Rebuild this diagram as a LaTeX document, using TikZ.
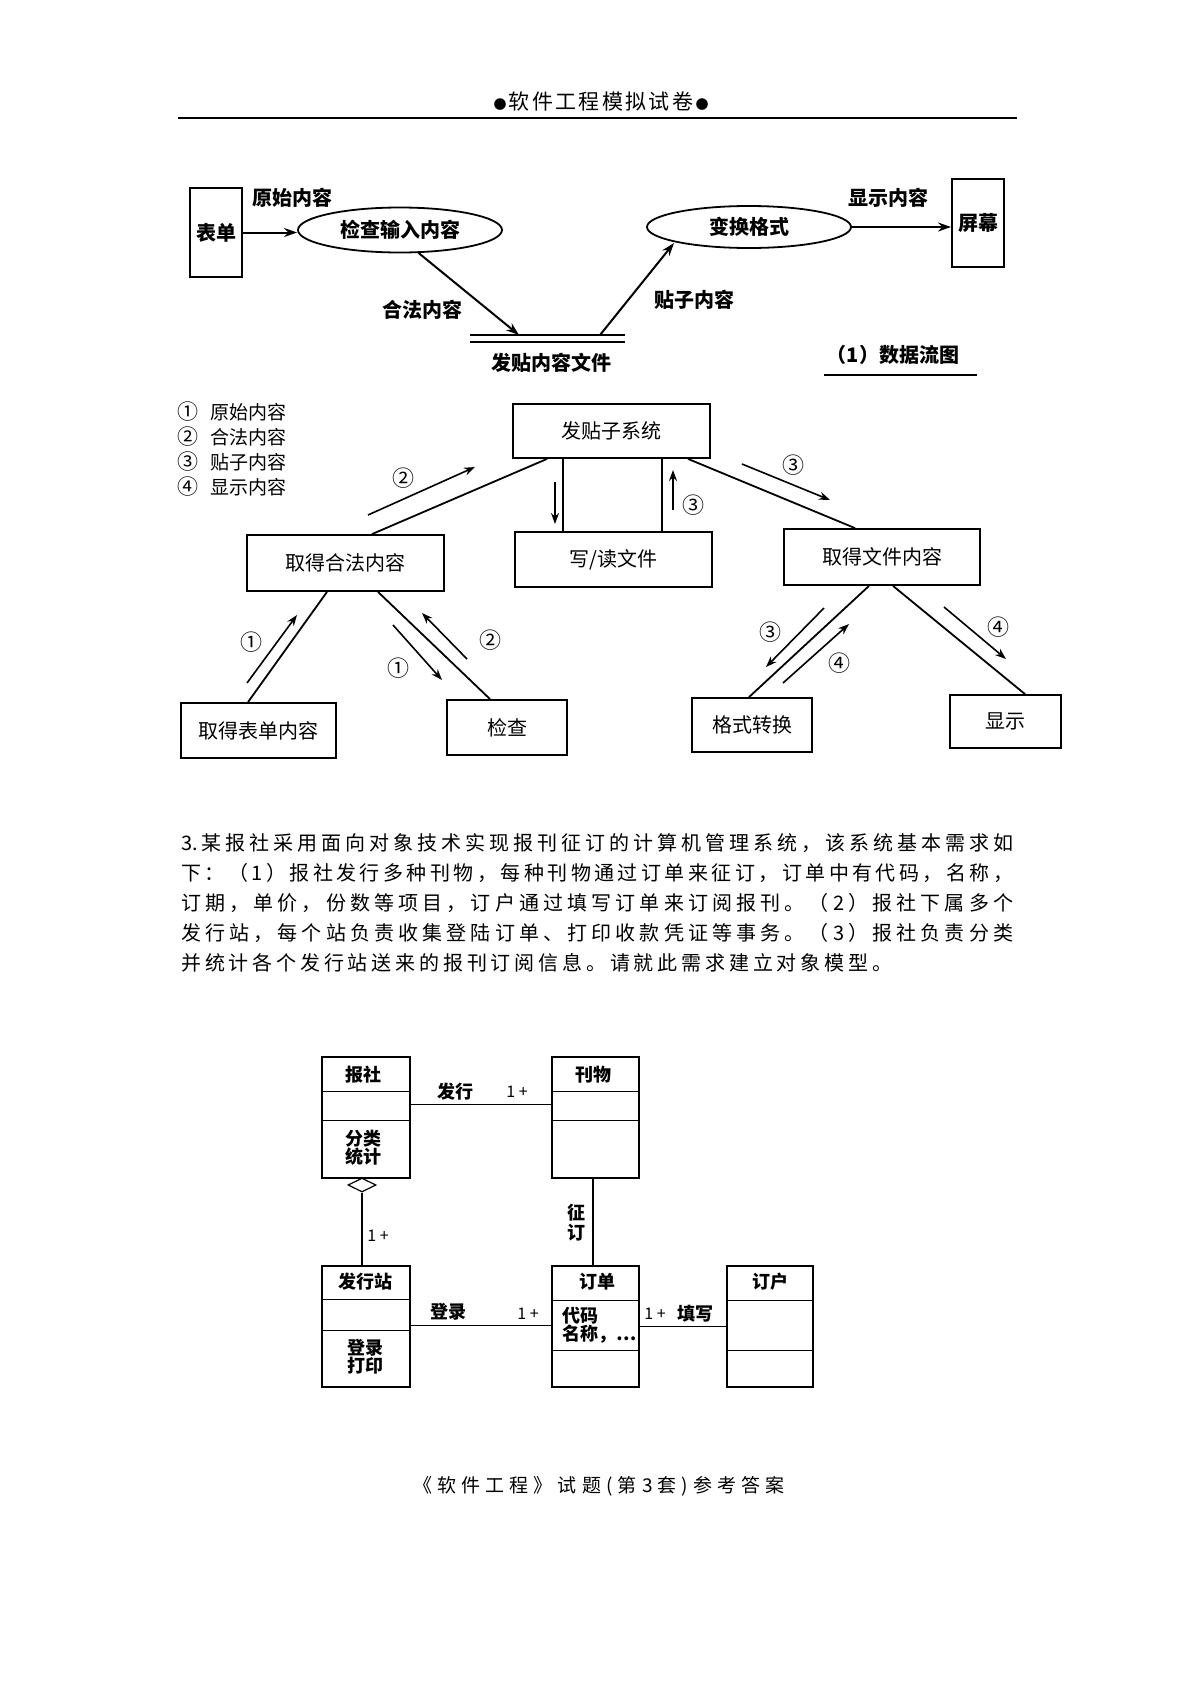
\documentclass[tikz,border=0pt]{standalone}
\usepackage{fontspec}
\setmainfont{Noto Sans CJK SC}
\usetikzlibrary{shapes.geometric,arrows.meta,calc}
\makeatletter
\newcommand\spreadto[2]{\hbox to #1{\let\spsep\relax\@tfor\spx:=#2\do{\spsep\spx\let\spsep\hfil}}}
\makeatother
\newcommand\fsz[1]{\fontsize{#1pt}{#1pt}\selectfont}
\begin{document}
\begin{tikzpicture}[x=1pt,y=-1pt,
  dfdbox/.style={draw,line width=2pt,inner sep=0pt,font=\fsz{20}\bfseries},
  dfdell/.style={draw,ellipse,line width=1.8pt,inner sep=0pt,font=\fsz{20}\bfseries},
  dfdarrow/.style={line width=2pt,-{Stealth[length=13pt,width=9pt]}},
  dfdlab/.style={font=\fsz{20}\bfseries,inner sep=0pt},
  scbox/.style={draw,line width=1.8pt,inner sep=0pt,font=\fsz{20}},
  scline/.style={line width=1.8pt},
  scarrow/.style={line width=1.6pt,-{Stealth[length=11pt,width=8pt]}},
  sclab/.style={font=\fsz{19},inner sep=0pt},
  numlab/.style={font=\fsz{22},inner sep=0pt},
  umlbox/.style={draw,line width=1.3pt,inner sep=0pt},
  umltxt/.style={font=\fsz{18}\bfseries,inner sep=0pt,align=center},
  umlline/.style={line width=1.3pt},
  multlab/.style={font=\fsz{16},inner sep=0pt},
  paraline/.style={font=\fsz{20},inner sep=0pt,anchor=west},
]
\fill[white] (0,0) rectangle (1191,1684);
\useasboundingbox (0,0) rectangle (1191,1684);

% header
\node[font=\fsz{21},inner sep=0pt] (hdr) at (601,101) {\spreadto{215pt}{{{\fsz{13}●}}软件工程模拟试卷{{\fsz{13}●}}}};
\coordinate (hl) at (178,118); \coordinate (hr) at (1017,118);
\draw[line width=1.5pt] (hl) -- (hr);

% ---------- part 1: data flow diagram
\node[dfdbox,minimum width=52pt,minimum height=89pt] (biaodan) at (216,232.5) {表单};
\node[dfdell,minimum width=204pt,minimum height=45pt] (e1) at (400,230) {检查输入内容};
\node[dfdell,minimum width=204pt,minimum height=42pt] (e2) at (749,227) {变换格式};
\node[dfdbox,minimum width=52pt,minimum height=88pt] (pingmu) at (978,223) {屏幕};
\draw[dfdarrow] (biaodan.east) -- (biaodan.east -| e1.west);
\draw[dfdarrow] (e2.east) -- (e2.east -| pingmu.west);
\node[inner sep=0pt,minimum width=155pt,minimum height=7pt] (store) at (547.5,338.5) {};
\draw[line width=2.2pt] (store.north west) -- (store.north east);
\draw[line width=1.6pt] (store.south west) -- (store.south east);
\coordinate (sin) at (519,335); \coordinate (sout) at (600,335); \coordinate (e2in) at (674,243);
\draw[dfdarrow] (e1.-51) -- (sin);
\draw[dfdarrow] (sout) -- (e2in);
\node[dfdlab] (l1) at (292,198) {原始内容};
\node[dfdlab] (l2) at (888,198) {显示内容};
\node[dfdlab] (l3) at (422,310) {合法内容};
\node[dfdlab] (l4) at (694,300) {贴子内容};
\node[dfdlab] (l5) at (551,363) {发贴内容文件};
\node[dfdlab] (cap1) at (893,355) {（1）数据流图};
\coordinate (ul1) at (824,375); \coordinate (ul2) at (977,375);
\draw[line width=1.8pt] (ul1) -- (ul2);

% ---------- part 2: structure chart
\node[sclab,anchor=west] (lg1) at (177,412) {{\fsz{21}①}\hspace{12pt}原始内容};
\node[sclab,anchor=west] (lg2) at (177,437) {{\fsz{21}②}\hspace{12pt}合法内容};
\node[sclab,anchor=west] (lg3) at (177,462) {{\fsz{21}③}\hspace{12pt}贴子内容};
\node[sclab,anchor=west] (lg4) at (177,487) {{\fsz{21}④}\hspace{12pt}显示内容};

\node[scbox,minimum width=197pt,minimum height=54pt] (fts) at (611.5,431) {发贴子系统};
\node[scbox,minimum width=197pt,minimum height=55pt] (xdw) at (613.5,559.5) {写/读文件};
\node[scbox,minimum width=197pt,minimum height=56pt] (qhf) at (345.5,563) {取得合法内容};
\node[scbox,minimum width=196pt,minimum height=56pt] (qwn) at (882,557) {取得文件内容};
\node[scbox,minimum width=155pt,minimum height=55pt] (qbd) at (258.5,730.5) {取得表单内容};
\node[scbox,minimum width=120pt,minimum height=55pt] (jc) at (507,727.5) {检查};
\node[scbox,minimum width=120pt,minimum height=54pt] (gsz) at (752,725) {格式转换};
\node[scbox,minimum width=111pt,minimum height=53pt] (xs) at (1005.5,721.5) {显示};

\draw[scline] ($(qhf.north)+(26.5,0)$) -- ($(fts.south)+(-64.5,0)$);
\draw[scline] ($(fts.south)+(-48.5,0)$) -- ($(xdw.north)+(-50.5,0)$);
\draw[scline] ($(fts.south)+(50.5,0)$) -- ($(xdw.north)+(48.5,0)$);
\draw[scline] ($(fts.south)+(76.5,0)$) -- ($(qwn.north)+(-27,0)$);
\draw[scline] ($(qhf.south)+(-18.5,0)$) -- ($(qbd.north)+(-10.5,0)$);
\draw[scline] ($(qhf.south)+(32.5,0)$) -- ($(jc.north)+(-17,0)$);
\draw[scline] ($(qwn.south)+(-13,0)$) -- ($(gsz.north)+(-3,0)$);
\draw[scline] ($(qwn.south)+(11,0)$) -- ($(xs.north)+(19.5,0)$);

\draw[scarrow] (368,515) -- (475,467);
\draw[scarrow] (555,482) -- (555,524);
\draw[scarrow] (673,510) -- (673,470);
\draw[scarrow] (742,464) -- (830,500);
\draw[scarrow] (247,683) -- (297,615);
\draw[scarrow] (393,625) -- (442,680);
\draw[scarrow] (467,659) -- (422,613);
\draw[scarrow] (824,608) -- (766,667);
\draw[scarrow] (783,683) -- (849,624);
\draw[scarrow] (944,607) -- (1006,659);
\node[numlab] (n1) at (403,478) {②};
\node[numlab] (n2) at (693,505) {③};
\node[numlab] (n3) at (793,465) {③};
\node[numlab] (n4) at (251,642) {①};
\node[numlab] (n5) at (398,668) {①};
\node[numlab] (n6) at (490,640) {②};
\node[numlab] (n7) at (770,632) {③};
\node[numlab] (n8) at (839,663) {④};
\node[numlab] (n9) at (998,627) {④};

% ---------- paragraph
\node[paraline] (p1) at (181,843) {\spreadto{832pt}{{3.}某报社采用面向对象技术实现报刊征订的计算机管理系统，该系统基本需求如}};
\node[paraline] (p2) at (181,873) {\spreadto{832pt}{下：（1）报社发行多种刊物，每种刊物通过订单来征订，订单中有代码，名称，}};
\node[paraline] (p3) at (181,903) {\spreadto{832pt}{订期，单价，份数等项目，订户通过填写订单来订阅报刊。（2）报社下属多个}};
\node[paraline] (p4) at (181,933) {\spreadto{832pt}{发行站，每个站负责收集登陆订单、打印收款凭证等事务。（3）报社负责分类}};
\node[paraline] (p5) at (181,963) {\spreadto{711pt}{并统计各个发行站送来的报刊订阅信息。请就此需求建立对象模型。}};

% ---------- part 3: object model
\node[umlbox,minimum width=88pt,minimum height=121pt] (baoshe) at (366,1117.5) {};
\node[umlbox,minimum width=87pt,minimum height=121pt] (kanwu) at (595.5,1117.5) {};
\node[umlbox,minimum width=88pt,minimum height=121pt] (fxz) at (366,1326.5) {};
\node[umlbox,minimum width=87pt,minimum height=121pt] (dd) at (595.5,1326.5) {};
\node[umlbox,minimum width=86pt,minimum height=121pt] (dh) at (770,1326.5) {};
\draw[umlline] ($(baoshe.north west)+(0,35)$) -- ($(baoshe.north east)+(0,35)$);
\draw[umlline] ($(baoshe.north west)+(0,64)$) -- ($(baoshe.north east)+(0,64)$);
\draw[umlline] ($(kanwu.north west)+(0,35)$) -- ($(kanwu.north east)+(0,35)$);
\draw[umlline] ($(kanwu.north west)+(0,64)$) -- ($(kanwu.north east)+(0,64)$);
\draw[umlline] ($(fxz.north west)+(0,34)$) -- ($(fxz.north east)+(0,34)$);
\draw[umlline] ($(fxz.north west)+(0,65)$) -- ($(fxz.north east)+(0,65)$);
\draw[umlline] ($(dd.north west)+(0,35)$) -- ($(dd.north east)+(0,35)$);
\draw[umlline] ($(dd.north west)+(0,85)$) -- ($(dd.north east)+(0,85)$);
\draw[umlline] ($(dh.north west)+(0,35)$) -- ($(dh.north east)+(0,35)$);
\draw[umlline] ($(dh.north west)+(0,85)$) -- ($(dh.north east)+(0,85)$);

\node[umltxt] (t1) at (363,1075) {报社};
\node[umltxt] (t2) at (363,1148) {分类\\统计};
\node[umltxt] (t3) at (593,1075) {刊物};
\node[umltxt] (t4) at (365,1282) {发行站};
\node[umltxt] (t5) at (365,1357) {登录\\打印};
\node[umltxt] (t6) at (597,1282) {订单};
\node[umltxt,align=left,anchor=west] (t7) at (562,1325.5) {代码\\名称，…};
\node[umltxt] (t8) at (770,1282) {订户};

\node[draw,diamond,line width=1.2pt,minimum width=28pt,minimum height=14pt,inner sep=0pt,aspect=2,fill=white] (dia) at (362,1185) {};
\draw[umlline] (dia.south) -- (dia.south |- fxz.north);
\draw[umlline] ($(baoshe.north east)+(0,48)$) -- ($(kanwu.north west)+(0,48)$);
\draw[umlline] ($(kanwu.south)+(-2.5,0)$) -- ($(dd.north)+(-2.5,0)$);
\draw[umlline] ($(fxz.north east)+(0,60)$) -- ($(dd.north west)+(0,60)$);
\draw[umlline] ($(dd.north east)+(0,61)$) -- ($(dh.north west)+(0,61)$);

\node[umltxt] (a1) at (455,1092) {发行};
\node[multlab] (m1) at (517,1092) {1 +};
\node[multlab] (m2) at (378,1236) {1 +};
\node[umltxt,font=\fontsize{18pt}{20pt}\selectfont\bfseries] (a2) at (576,1223) {征\\订};
\node[umltxt] (a3) at (448,1312) {登录};
\node[multlab] (m3) at (528,1314) {1 +};
\node[multlab] (m4) at (655,1314) {1 +};
\node[umltxt] (a4) at (695,1314) {填写};

% footer
\node[font=\fsz{19},inner sep=0pt] (ftr) at (599,1486) {\spreadto{372pt}{《软件工程》试题(第3套)参考答案}};
\end{tikzpicture}
\end{document}
